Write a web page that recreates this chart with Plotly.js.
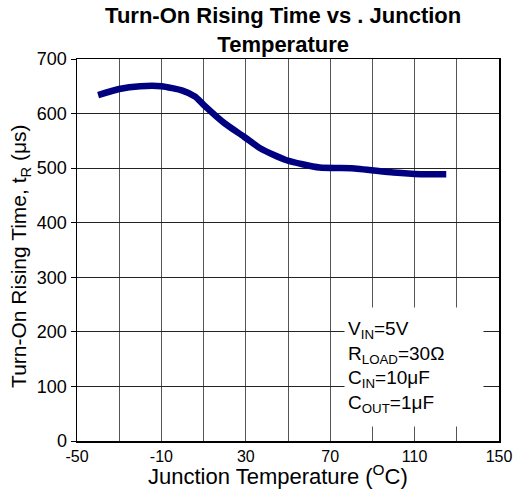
<!DOCTYPE html>
<html>
<head>
<meta charset="utf-8">
<script src="https://cdn.plot.ly/plotly-3.0.1.min.js"></script>
<style>html,body{margin:0;padding:0;background:#fff;}#chart{width:513px;height:495px;}</style>
</head>
<body>
<div id="chart"></div>
<script>
const temperature = [-40, -30, -20, -10, 0, 6, 10, 20, 29, 37, 49, 65, 80, 100, 113, 125];
const riseTime    = [634, 645, 650, 650, 642, 631, 616, 582, 558, 536, 515, 501, 500, 492, 489, 489];
const xTickVals = [-50, -10, 30, 70, 110, 150];
const yTickVals = [0, 100, 200, 300, 400, 500, 600, 700];
const conditions = ["V<sub>IN</sub>=5V", "R<sub>LOAD</sub>=30Ω", "C<sub>IN</sub>=10μF", "C<sub>OUT</sub>=1μF"];
const xTitle = 'Junction Temperature (<sup>O</sup>C)';
const yTitle = 'Turn-On Rising Time, t<sub>R</sub> (μs)';

const trace = {
  x: temperature, y: riseTime, type: 'scatter', mode: 'lines',
  line: {color: '#000080', width: 6.5, shape: 'spline', smoothing: 0.6},
  hoverinfo: 'skip'
};

const layout = {
  width: 513, height: 495,
  margin: {l: 77, r: 14, t: 59, b: 54},
  paper_bgcolor: '#fff', plot_bgcolor: '#fff',
  font: {family: 'Liberation Sans, Arial, sans-serif', color: '#000', size: 16},
  showlegend: false,
  title: {
    text: '<b>Turn-On Rising Time vs . Junction<br>Temperature</b>',
    font: {size: 22, color: '#000'},
    x: 0.552, xanchor: 'center', y: 0.953, yanchor: 'top'
  },
  xaxis: {
    range: [-50, 150], tickvals: xTickVals, ticktext: xTickVals.map(String),
    showgrid: true, gridcolor: '#555', gridwidth: 1,
    minor: {dtick: 20, tick0: -50, showgrid: true, gridcolor: '#555', gridwidth: 1},
    showline: true, linecolor: '#000', linewidth: 1.5, mirror: true,
    ticks: '', zeroline: false, fixedrange: true,
    tickfont: {size: 16}
  },
  yaxis: {
    range: [0, 700], tickvals: yTickVals,
    showgrid: true, gridcolor: '#222', gridwidth: 1,
    showline: true, linecolor: '#000', linewidth: 1.5, mirror: true,
    ticks: 'outside', ticklen: 5, tickcolor: '#000',
    zeroline: false, fixedrange: true,
    tickfont: {size: 18}
  },
  annotations: [{
    xref: 'paper', yref: 'paper', x: 0.632, y: 0.35,
    xanchor: 'left', yanchor: 'top',
    text: conditions.join('<br>'), align: 'left', showarrow: false,
    bgcolor: '#fff', width: 132, height: 112, borderpad: 3,
    font: {size: 19, color: '#000'}
  }, {
    xref: 'paper', yref: 'paper', x: 0.477, y: -0.088,
    xanchor: 'center', yanchor: 'middle', showarrow: false,
    text: xTitle, font: {size: 22, color: '#000'}
  }, {
    xref: 'paper', yref: 'paper', x: -0.135, y: 0.482,
    xanchor: 'center', yanchor: 'middle', showarrow: false, textangle: -90,
    text: yTitle, font: {size: 21, color: '#000'}
  }]
};

Plotly.newPlot('chart', [trace], layout, {displayModeBar: false, staticPlot: true});
</script>
</body>
</html>
